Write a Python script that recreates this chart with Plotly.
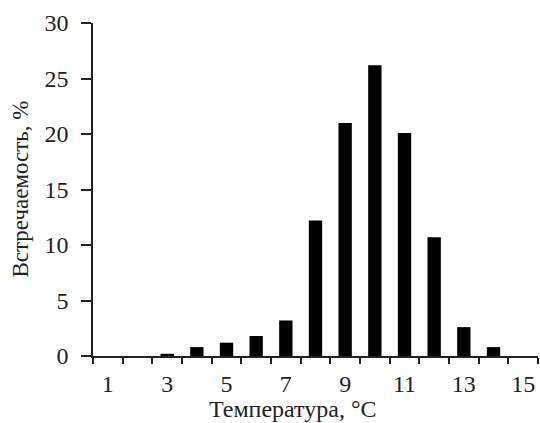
import plotly.graph_objects as go

temperatures = list(range(1, 16))
frequency = [0, 0, 0.2, 0.8, 1.2, 1.8, 3.2, 12.2, 21.0, 26.2, 20.1, 10.7, 2.6, 0.8, 0]
x_tick_values = [1, 3, 5, 7, 9, 11, 13, 15]
y_tick_values = [0, 5, 10, 15, 20, 25, 30]
x_title = "Температура, °C"
y_title = "Встречаемость, %"

font_family = "Liberation Serif"

fig = go.Figure(
    go.Bar(
        x=temperatures,
        y=frequency,
        width=0.45,
        marker=dict(color="black", line=dict(width=0)),
    )
)

fig.update_layout(
    width=540,
    height=423,
    margin=dict(l=93, r=2, t=23, b=67, autoexpand=False),
    paper_bgcolor="white",
    plot_bgcolor="white",
    showlegend=False,
    font=dict(family=font_family, size=23, color="#222"),
    annotations=[
        dict(text=x_title, xref="paper", yref="paper", x=0.45, y=-0.158,
             xanchor="center", yanchor="middle", showarrow=False,
             font=dict(family=font_family, size=24, color="#222")),
        dict(text=y_title, xref="paper", yref="paper", x=-0.164, y=0.5,
             xanchor="center", yanchor="middle", showarrow=False, textangle=-90,
             font=dict(family=font_family, size=23, color="#222")),
    ],
)

fig.update_xaxes(
    automargin=False,
    range=[0.5, 15.5],
    tickvals=x_tick_values,
    ticktext=[str(v) for v in x_tick_values],
    ticks="outside",
    ticklen=5,
    tickcolor="rgba(0,0,0,0)",
    showline=True,
    linecolor="#222",
    linewidth=1.5,
    showgrid=False,
    zeroline=False,
    minor=dict(tick0=0.5, dtick=1, ticks="outside", ticklen=6, tickcolor="#222", tickwidth=1.5),
    tickfont=dict(family=font_family, size=24),
)

fig.update_yaxes(
    automargin=False,
    range=[0, 30],
    tickvals=y_tick_values,
    ticks="outside",
    ticklen=10,
    ticklabelstandoff=8,
    tickcolor="#222",
    tickwidth=1.5,
    showline=True,
    linecolor="#222",
    linewidth=1.5,
    showgrid=False,
    zeroline=False,
    tickfont=dict(family=font_family, size=24),
)

fig.write_html(
    "out.html",
    config={"displayModeBar": False},
    post_script="document.body.style.margin='0';",
)
